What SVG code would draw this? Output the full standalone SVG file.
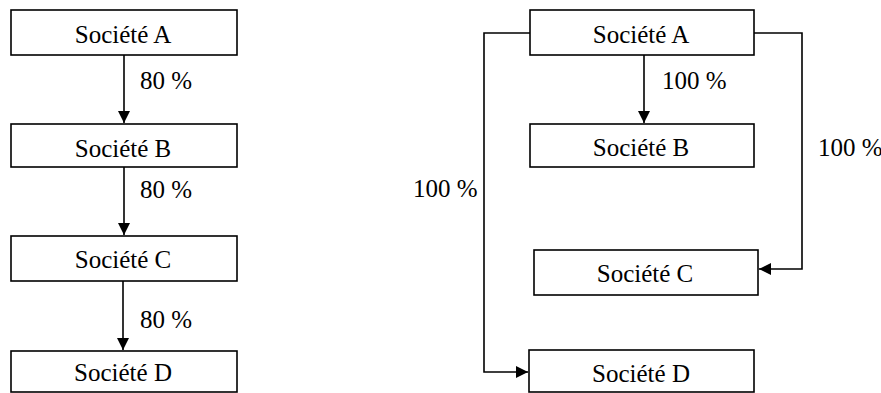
<svg xmlns="http://www.w3.org/2000/svg" width="881" height="393" viewBox="0 0 881 393">
<defs>
<style>
.box{fill:#fff;stroke:#000;stroke-width:1.6}
.lbl{font-family:"Liberation Serif","Times New Roman",serif;font-size:25px;fill:#000}
.c{text-anchor:middle}
.edge{fill:none;stroke:#000;stroke-width:1.6}
</style>
<marker id="arr" markerUnits="userSpaceOnUse" markerWidth="14" markerHeight="12" refX="12" refY="6" orient="auto">
<path d="M0,0 L12,6 L0,12 Z" fill="#000"/>
</marker>
</defs>
<rect width="881" height="393" fill="#fff"/>
<g id="connectors">
<path class="edge" d="M124,55 V123" marker-end="url(#arr)"/>
<path class="edge" d="M124,167 V235" marker-end="url(#arr)"/>
<path class="edge" d="M123,281 V350" marker-end="url(#arr)"/>
<path class="edge" d="M644,55 V123" marker-end="url(#arr)"/>
<path class="edge" d="M530,33 H484 V372 H528" marker-end="url(#arr)"/>
<path class="edge" d="M754,33 H802 V269 H759" marker-end="url(#arr)"/>
<text class="lbl" x="140" y="89">80 %</text>
<text class="lbl" x="140" y="198">80 %</text>
<text class="lbl" x="140" y="328">80 %</text>
<text class="lbl" x="662" y="89">100 %</text>
<text class="lbl" x="818" y="156">100 %</text>
<text class="lbl" x="413" y="197">100 %</text>
</g>
<g id="l-a"><rect class="box" x="11" y="10" width="226" height="45"/><text class="lbl c" x="123" y="43">Société A</text></g>
<g id="l-b"><rect class="box" x="11" y="124" width="226" height="43"/><text class="lbl c" x="123" y="157">Société B</text></g>
<g id="l-c"><rect class="box" x="11" y="236" width="226" height="45"/><text class="lbl c" x="123" y="268">Société C</text></g>
<g id="l-d"><rect class="box" x="11" y="351" width="226" height="41"/><text class="lbl c" x="123" y="381">Société D</text></g>
<g id="r-a"><rect class="box" x="530" y="10" width="224" height="45"/><text class="lbl c" x="641" y="43">Société A</text></g>
<g id="r-b"><rect class="box" x="530" y="124" width="224" height="43"/><text class="lbl c" x="641" y="156">Société B</text></g>
<g id="r-c"><rect class="box" x="534" y="250" width="224" height="45"/><text class="lbl c" x="645" y="282">Société C</text></g>
<g id="r-d"><rect class="box" x="529" y="350" width="225" height="42"/><text class="lbl c" x="641" y="382">Société D</text></g>
</svg>
